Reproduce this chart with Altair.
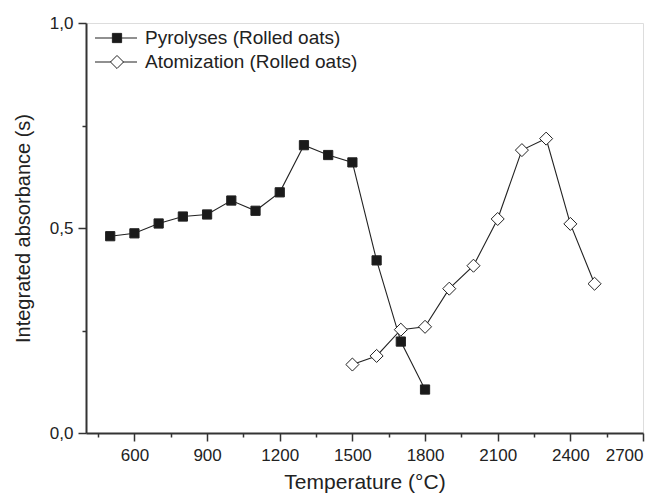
import altair as alt
import pandas as pd

# ---- data ----
series_names = ["Pyrolyses (Rolled oats)", "Atomization (Rolled oats)"]

pyro_temp = [500, 600, 700, 800, 900, 1000, 1100, 1200, 1300, 1400, 1500, 1600, 1700, 1800]
pyro_abs = [0.480, 0.487, 0.511, 0.528, 0.533, 0.567, 0.542, 0.587, 0.702, 0.678, 0.660, 0.421, 0.223, 0.106]

atom_temp = [1500, 1600, 1700, 1800, 1900, 2000, 2100, 2200, 2300, 2400, 2500]
atom_abs = [0.167, 0.188, 0.252, 0.259, 0.352, 0.408, 0.522, 0.690, 0.718, 0.510, 0.364]

x_major = [600, 900, 1200, 1500, 1800, 2100, 2400, 2700]
x_minor = [450, 750, 1050, 1350, 1650, 1950, 2250, 2550]
y_major = [0.0, 0.5, 1.0]
y_minor = [0.25, 0.75]

df = pd.DataFrame({
    "series": [series_names[0]] * len(pyro_temp) + [series_names[1]] * len(atom_temp),
    "temp": pyro_temp + atom_temp,
    "value": pyro_abs + atom_abs,
})
legend_df = pd.DataFrame({"series": series_names})

FONT = "Liberation Sans"
AX = "#333333"
INK = "#222222"

color_scale = alt.Scale(domain=series_names, range=[INK, INK])
shape_scale = alt.Scale(domain=series_names, range=["square", "diamond"])
fill_scale = alt.Scale(domain=series_names, range=["#1a1a1a", "#ffffff"])
size_scale = alt.Scale(domain=series_names, range=[85, 170])

x_axis = alt.Axis(
    values=sorted(x_major + x_minor),
    tickSize={"condition": {"test": "datum.value % 300 == 0", "value": 8}, "value": 4},
    labelExpr="datum.value % 300 == 0 ? format(datum.value, 'd') : ''",
    labelOverlap=False,
    grid=False,
    domainColor=AX, domainWidth=2,
    tickColor=AX, tickWidth=1.5,
    labelFont=FONT, labelFontSize=17, labelColor=INK, labelPadding=6,
    titleFont=FONT, titleFontSize=21, titleFontWeight="normal", titleColor=INK,
    titlePadding=8,
)
y_axis = alt.Axis(
    values=sorted(y_major + y_minor),
    tickSize={"condition": {"test": "(datum.value * 4) % 2 == 0", "value": 8}, "value": 4},
    labelExpr="(datum.value * 4) % 2 == 0 ? replace(format(datum.value, '.1f'), '.', ',') : ''",
    labelOverlap=False,
    grid=False,
    domainColor=AX, domainWidth=2,
    tickColor=AX, tickWidth=1.5,
    labelFont=FONT, labelFontSize=17, labelColor=INK, labelPadding=5,
    titleFont=FONT, titleFontSize=20, titleFontWeight="normal", titleColor=INK,
    titlePadding=16,
)

base = alt.Chart(df).encode(
    x=alt.X("temp:Q", title="Temperature (°C)", scale=alt.Scale(domain=[400, 2700], nice=False, zero=False), axis=x_axis),
    y=alt.Y("value:Q", title="Integrated absorbance (s)", scale=alt.Scale(domain=[0, 1], nice=False), axis=y_axis),
)

lines = base.mark_line(strokeWidth=1.1).encode(
    color=alt.Color("series:N", scale=color_scale, legend=None),
    detail="series:N",
)
points = base.mark_point(filled=False, opacity=1, stroke=INK, strokeWidth=1).encode(
    shape=alt.Shape("series:N", scale=shape_scale, legend=None),
    fill=alt.Fill("series:N", scale=fill_scale, legend=None),
    size=alt.Size("series:N", scale=size_scale, legend=None),
)

legend_rows = [15, 39]
legend_layers = []
for name, ypos in zip(series_names, legend_rows):
    lb = alt.Chart(legend_df).transform_filter(alt.datum.series == name).encode(y=alt.value(ypos))
    legend_layers.append(lb.mark_rule(color=INK, strokeWidth=1.1).encode(x=alt.value(9), x2=alt.value(51)))
    legend_layers.append(lb.mark_point(filled=False, opacity=1, stroke=INK, strokeWidth=1).encode(
        x=alt.value(31),
        shape=alt.Shape("series:N", scale=shape_scale, legend=None),
        fill=alt.Fill("series:N", scale=fill_scale, legend=None),
        size=alt.Size("series:N", scale=size_scale, legend=None),
    ))
    legend_layers.append(lb.mark_text(align="left", baseline="middle", font=FONT, fontSize=19, color=INK).encode(
        x=alt.value(59), text="series:N"
    ))

chart = alt.layer(lines, points, *legend_layers).properties(
    width=557, height=410,
    autosize=alt.AutoSizeParams(type="none"),
    padding={"left": 78, "top": 15, "right": 17, "bottom": 70},
).configure_view(stroke=AX, strokeWidth=2).configure(background="white")

chart.save("out.html", embed_options={"renderer": "svg", "actions": False})
